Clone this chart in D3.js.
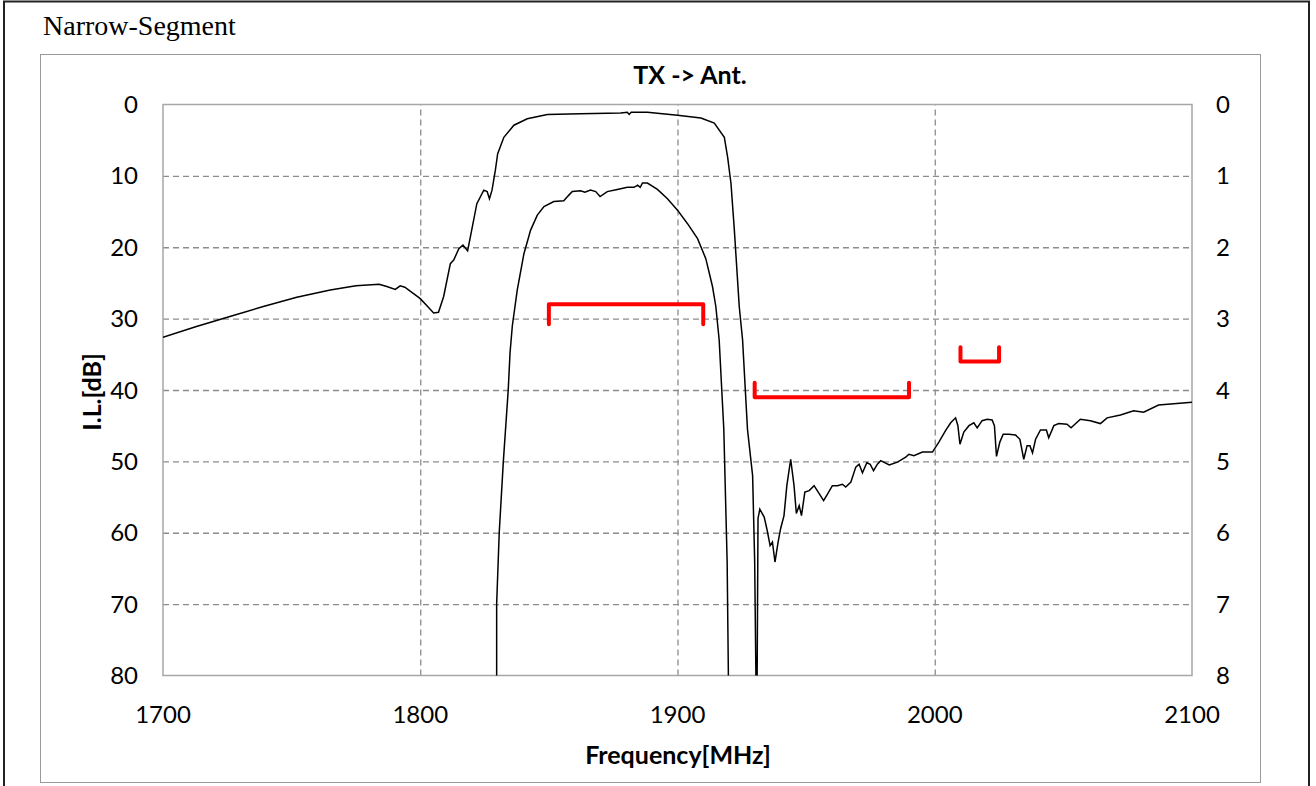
<html>
<head>
<script src="https://d3js.org/d3.v7.min.js"></script>
<style>
body { margin: 0; background: #fff; }
svg { display: block; }
.tick-label { font-family: Lato, 'Open Sans', sans-serif; font-size: 24px; fill: #000; }
.axis-title { font-family: Lato, 'Open Sans', sans-serif; font-size: 25px; font-weight: bold; fill: #000; }
.grid line { stroke: #8c8c8c; stroke-width: 1.3; stroke-dasharray: 6,4; }
.grid path { display: none; }
</style>
</head>
<body>
<svg></svg>
<script>

// Wide-scale insertion loss (left axis, dB): [MHz, dB]
var wideFreq = [1700,1713,1726,1739,1752,1765,1775,1784,1787,1790.3,1792.2,1794,1797.4,1800,1802.6,1805.2,1807.1,1809.1,1811.7,1813,1815,1816.6,1818.4,1819.5,1822,1824.7,1826,1826.9,1827.9,1829.2,1830.1,1832.5,1836.4,1841.6,1849.4,1862.3,1877.9,1880.5,1881.2,1882,1888.3,1900,1909.1,1914.3,1918.2,1919.5,1920.8,1922.1,1924,1925.3,1927.2,1929.2,1930,1930.6,1930.9,1931.3,1932,1933.7,1934.7,1936,1936.9,1937.9,1939.1,1940.1,1941.4,1942.5,1944,1945.3,1946.2,1947.3,1948.2,1949.5,1951.2,1953.1,1954.7,1956.8,1958.3,1960.2,1962.2,1964.1,1965.4,1967.4,1969.3,1970.6,1971.9,1973.6,1974.9,1976.2,1977.7,1979,1982.3,1985.5,1988.7,1990,1991.9,1995.2,1999.1,2001.6,2004.2,2006.2,2008.1,2009,2009.8,2011.3,2013.3,2015.2,2016.5,2018.4,2020.4,2022.3,2023.2,2024,2025.3,2026.6,2028.8,2031.4,2033.1,2034.6,2035.9,2037,2038,2039.2,2041.1,2043.4,2044.3,2046.3,2048.2,2051.4,2053,2056.6,2060.5,2064.4,2067,2072.2,2077.3,2081.2,2087,2100];
var wideLoss = [32.6,31.1,29.7,28.3,27.0,26.0,25.4,25.2,25.5,25.9,25.4,25.6,26.5,27.2,28.2,29.2,29.1,26.9,22.3,21.8,20.2,19.7,20.5,18.5,13.9,12.0,12.2,13.2,12.0,9.2,6.9,4.6,2.9,2.0,1.4,1.3,1.2,1.1,1.4,1.1,1.1,1.5,1.9,2.6,4.6,7.4,11.1,17.6,28.3,33,45.5,52,64,84,84,58,56.7,57.8,59.4,61.8,61.3,64.1,61.3,59.4,57.6,53.4,49.7,53.4,57.3,56.2,57.6,54.3,54.1,53.4,54.3,55.5,54.6,53.4,53.4,53.2,53.6,52.9,50.8,50.4,51.6,50.2,50.4,51.3,50.4,49.9,50.5,50.1,49.4,49.0,49.2,48.7,48.7,47.3,45.7,44.6,43.9,45.0,47.6,45.9,45.0,44.6,45.3,44.3,44.1,44.2,45.0,49.3,47.3,46.2,46.2,46.3,46.9,49.7,47.8,47.8,48.8,46.9,45.6,45.6,46.7,45.0,44.7,44.8,45.3,44.1,44.3,44.7,43.9,43.5,42.9,43.1,42.1,41.7];

// Zoomed insertion loss (right axis, dB)
var zoomFreq = [1829.7,1829.7,1830.7,1831.0,1832.3,1834.2,1834.9,1835.8,1837.7,1840.3,1842.9,1845.5,1848.1,1851.9,1855.8,1857.5,1859.1,1862.3,1864,1866.2,1868.2,1869.9,1872.7,1876.6,1880.5,1883.1,1884.5,1885.5,1886.4,1888.3,1892.2,1896.1,1900,1903.9,1907.8,1911,1913.6,1914.9,1916.2,1918.0,1919.3,1919.9];
var zoomLoss = [8.4,7.0,6.0,5.81,5.0,4.0,3.48,3.1,2.6,2.09,1.76,1.55,1.43,1.36,1.35,1.28,1.22,1.21,1.23,1.20,1.22,1.29,1.22,1.19,1.16,1.16,1.13,1.16,1.10,1.10,1.19,1.32,1.48,1.67,1.88,2.16,2.55,2.83,3.3,4.55,6.41,8.4];

// Spec brackets: start MHz, stop MHz, level, tick end, axis
var specStart = [1850, 1930, 2010];
var specStop  = [1910, 1990, 2025];
var specLevel = [2.8, 41, 36];
var specTick  = [3.08, 39, 34];
var specAxis  = ['right', 'left', 'left'];

var xTicks = [1700, 1800, 1900, 2000, 2100];
var leftTicks = [0, 10, 20, 30, 40, 50, 60, 70, 80];
var rightTicks = [0, 1, 2, 3, 4, 5, 6, 7, 8];

var width = 1316, height = 786;
var margin = {left: 163, right: 1192, top: 104.5, bottom: 675.5};

var svg = d3.select('svg')
  .attr('width', width)
  .attr('height', height);

// outer frames
svg.append('rect')
  .attr('x', 4).attr('y', 1.5)
  .attr('width', 1305).attr('height', 800)
  .attr('fill', 'none').attr('stroke', '#222').attr('stroke-width', 2);
svg.append('rect')
  .attr('x', 40.5).attr('y', 54.5)
  .attr('width', 1220).attr('height', 728)
  .attr('fill', 'none').attr('stroke', '#999').attr('stroke-width', 1);

svg.append('text')
  .attr('x', 43).attr('y', 35)
  .style('font-family', "'Liberation Serif', 'Times New Roman', serif")
  .style('font-size', '28px')
  .text('Narrow-Segment');

var x = d3.scaleLinear().domain([1700, 2100]).range([margin.left, margin.right]);
var yL = d3.scaleLinear().domain([0, 80]).range([margin.top, margin.bottom]);
var yR = d3.scaleLinear().domain([0, 8]).range([margin.top, margin.bottom]);

var plotW = margin.right - margin.left, plotH = margin.bottom - margin.top;

// gridlines
svg.append('g')
  .attr('class', 'grid')
  .attr('transform', 'translate(' + margin.left + ',0)')
  .call(d3.axisLeft(yL).tickValues(leftTicks.slice(1, -1)).tickSize(-plotW).tickFormat(''));
svg.append('g')
  .attr('class', 'grid')
  .attr('transform', 'translate(0,' + margin.bottom + ')')
  .call(d3.axisBottom(x).tickValues(xTicks.slice(1, -1)).tickSize(-plotH).tickFormat(''));

// plot border
svg.append('rect')
  .attr('x', margin.left).attr('y', margin.top)
  .attr('width', plotW).attr('height', plotH)
  .attr('fill', 'none').attr('stroke', '#a6a6a6').attr('stroke-width', 1.5);

// tick labels
svg.append('g').selectAll('text')
  .data(leftTicks).enter().append('text')
  .attr('class', 'tick-label')
  .attr('x', 138).attr('y', function(d) { return yL(d) + 8.5; })
  .attr('text-anchor', 'end')
  .text(function(d) { return d; });

svg.append('g').selectAll('text')
  .data(rightTicks).enter().append('text')
  .attr('class', 'tick-label')
  .attr('x', 1216).attr('y', function(d) { return yR(d) + 8.5; })
  .text(function(d) { return d; });

svg.append('g').selectAll('text')
  .data(xTicks).enter().append('text')
  .attr('class', 'tick-label')
  .attr('x', function(d) { return x(d); }).attr('y', 723)
  .attr('text-anchor', 'middle')
  .text(function(d) { return d; });

// titles
svg.append('text')
  .attr('class', 'axis-title')
  .attr('x', 690).attr('y', 84)
  .attr('text-anchor', 'middle')
  .text('TX -> Ant.');

svg.append('text')
  .attr('class', 'axis-title')
  .attr('x', 678).attr('y', 764)
  .attr('text-anchor', 'middle')
  .text('Frequency[MHz]');

svg.append('text')
  .attr('class', 'axis-title')
  .attr('transform', 'translate(101,392)rotate(-90)')
  .attr('text-anchor', 'middle')
  .text('I.L.[dB]');

// curves
svg.append('clipPath').attr('id', 'plot-clip')
  .append('rect')
  .attr('x', margin.left).attr('y', margin.top)
  .attr('width', plotW).attr('height', plotH);

var curves = svg.append('g').attr('clip-path', 'url(#plot-clip)');

var wideLine = d3.line()
  .x(function(d, i) { return x(wideFreq[i]); })
  .y(function(d, i) { return yL(wideLoss[i]); });
var zoomLine = d3.line()
  .x(function(d, i) { return x(zoomFreq[i]); })
  .y(function(d, i) { return yR(zoomLoss[i]); });

curves.append('path')
  .attr('d', wideLine(wideFreq))
  .attr('fill', 'none').attr('stroke', '#000').attr('stroke-width', 1.5);
curves.append('path')
  .attr('d', zoomLine(zoomFreq))
  .attr('fill', 'none').attr('stroke', '#000').attr('stroke-width', 1.5);

// spec brackets
svg.append('g').selectAll('path')
  .data(specStart).enter().append('path')
  .attr('d', function(d, i) {
    var y = specAxis[i] === 'right' ? yR : yL;
    return 'M' + x(specStart[i]) + ',' + y(specTick[i]) +
      'L' + x(specStart[i]) + ',' + y(specLevel[i]) +
      'L' + x(specStop[i]) + ',' + y(specLevel[i]) +
      'L' + x(specStop[i]) + ',' + y(specTick[i]);
  })
  .attr('fill', 'none')
  .attr('stroke', '#ff0000')
  .attr('stroke-width', 4)
  .attr('stroke-linecap', 'round')
  .attr('stroke-linejoin', 'round');

</script>
</body>
</html>
